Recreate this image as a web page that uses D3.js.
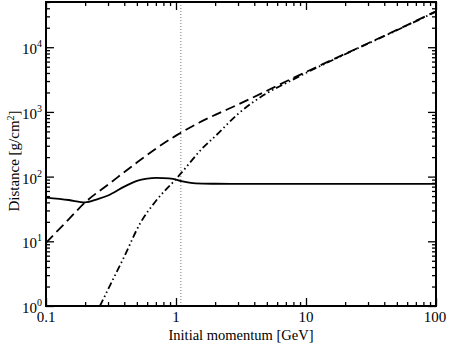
<!DOCTYPE html>
<html>
<head>
  <meta charset="utf-8">
  <style>
    body { margin: 0; background: #fff; }
    text { font-family: "Liberation Serif", "DejaVu Serif", serif; fill: #000; }
    .frame { fill: none; stroke: #000; stroke-width: 2; }
    .axis path { display: none; }
    .axis line { stroke: #000; stroke-width: 1.3; }
    .curve { fill: none; stroke: #000; stroke-width: 1.8; }
  </style>
</head>
<body>
  <svg id="chart" width="450" height="348"></svg>

  <script src="https://cdn.jsdelivr.net/npm/d3@7/dist/d3.min.js"></script>
  <script>
    // readings (GeV, g/cm^2)
    var solidP = [0.1, 0.15, 0.2, 0.25, 0.3, 0.4, 0.5, 0.6, 0.7, 0.8, 0.95, 1.1, 1.3, 1.6, 2, 3, 5, 10, 30, 100];
    var solidD = [47.5, 43.5, 40, 45, 51, 70, 86, 93, 95.5, 95, 92, 85, 80, 78, 77.5, 77, 77, 77, 77, 77];

    var dashP = [0.1, 0.15, 0.2, 0.3, 0.5, 0.7, 1, 1.5, 2, 3, 5, 7, 10, 20, 30, 50, 100];
    var dashD = [9.5, 22, 40, 75, 165, 270, 430, 680, 900, 1300, 2120, 2950, 4150, 7900, 11500, 18500, 36000];

    var ddotP = [0.26, 0.3, 0.4, 0.528, 0.7, 1, 1.09, 1.62, 2, 3, 5, 7, 10, 20, 50, 100];
    var ddotD = [1, 1.8, 5.8, 18.7, 42, 92, 112, 283, 420, 930, 1950, 2780, 4000, 7800, 18300, 35500];

    var markP = 1.09;  // dotted vertical line

    var xMajor = [0.1, 1, 10, 100];
    var xLabels = ['0.1', '1', '10', '100'];
    var yMajor = [1, 10, 100, 1000, 10000];
    var yExp = ['0', '1', '2', '3', '4'];

    var mLeft = 46, mRight = 436, mTop = 2, mBottom = 306;

    var svg = d3.select('#chart');

    var x = d3.scaleLog().domain([0.1, 100]).range([mLeft, mRight]);
    var y = d3.scaleLog().domain([1, 5e4]).range([mBottom, mTop]);

    // minor ticks: 2..9 in each decade
    var xMinor = [], yMinor = [];
    [0.1, 1, 10].forEach(d => { for (var k = 2; k < 10; k++) xMinor.push(d * k); });
    [1, 10, 100, 1000, 10000].forEach(d => { for (var k = 2; k < 10; k++) if (d * k <= 5e4) yMinor.push(d * k); });

    function addAxis(gen, tx, ty) {
      svg.append('g').attr('class', 'axis')
        .attr('transform', 'translate(' + tx + ',' + ty + ')')
        .call(gen.tickFormat(''));
    }

    addAxis(d3.axisBottom(x).tickValues(xMajor).tickSize(-8), 0, mBottom);
    addAxis(d3.axisBottom(x).tickValues(xMinor).tickSize(-4), 0, mBottom);
    addAxis(d3.axisTop(x).tickValues(xMajor).tickSize(-8), 0, mTop);
    addAxis(d3.axisTop(x).tickValues(xMinor).tickSize(-4), 0, mTop);
    addAxis(d3.axisLeft(y).tickValues(yMajor).tickSize(-8), mLeft, 0);
    addAxis(d3.axisLeft(y).tickValues(yMinor).tickSize(-4), mLeft, 0);
    addAxis(d3.axisRight(y).tickValues(yMajor).tickSize(-8), mRight, 0);
    addAxis(d3.axisRight(y).tickValues(yMinor).tickSize(-4), mRight, 0);

    // dotted marker line
    svg.append('line')
      .attr('x1', x(markP)).attr('x2', x(markP))
      .attr('y1', mBottom).attr('y2', mTop)
      .attr('stroke', '#777').attr('stroke-width', 1)
      .attr('stroke-dasharray', '1,2');

    var line = d3.line()
      .x(d => x(d[0]))
      .y(d => y(d[1]))
      .curve(d3.curveMonotoneX);

    svg.append('path').attr('class', 'curve')
      .attr('d', line(d3.zip(solidP, solidD)));

    svg.append('path').attr('class', 'curve')
      .attr('stroke-dasharray', '10,5')
      .attr('d', line(d3.zip(dashP, dashD)));

    svg.append('path').attr('class', 'curve')
      .attr('stroke-dasharray', '7,3,1.5,3,1.5,3')
      .attr('d', line(d3.zip(ddotP, ddotD)));

    svg.append('rect').attr('class', 'frame')
      .attr('x', mLeft).attr('y', mTop)
      .attr('width', mRight - mLeft).attr('height', mBottom - mTop);

    // tick labels
    svg.selectAll('text.xlab')
      .data(xMajor)
      .enter()
      .append('text')
      .attr('class', 'xlab')
      .attr('x', (d, i) => x(d) + (i == 3 ? -1 : 0))
      .attr('y', mBottom + 16)
      .attr('text-anchor', 'middle')
      .style('font-size', '15px')
      .text((d, i) => xLabels[i]);

    var ylab = svg.selectAll('text.ylab')
      .data(yMajor)
      .enter()
      .append('text')
      .attr('class', 'ylab')
      .attr('x', mLeft - 4)
      .attr('y', d => y(d) + 7)
      .attr('text-anchor', 'end')
      .style('font-size', '15px');
    ylab.append('tspan').text('10');
    ylab.append('tspan')
      .attr('dy', -7)
      .style('font-size', '10px')
      .text((d, i) => yExp[i]);

    // axis titles
    svg.append('text')
      .attr('x', (mLeft + mRight) / 2)
      .attr('y', 340)
      .attr('text-anchor', 'middle')
      .style('font-size', '14.5px')
      .text('Initial momentum [GeV]');

    var yt = svg.append('text')
      .attr('transform', 'translate(19,161) rotate(-90)')
      .attr('text-anchor', 'middle')
      .style('font-size', '15px');
    yt.append('tspan').text('Distance [g/cm');
    yt.append('tspan').attr('dy', -5).style('font-size', '10px').text('2');
    yt.append('tspan').attr('dy', 5).text(']');
  </script>
</body>
</html>
